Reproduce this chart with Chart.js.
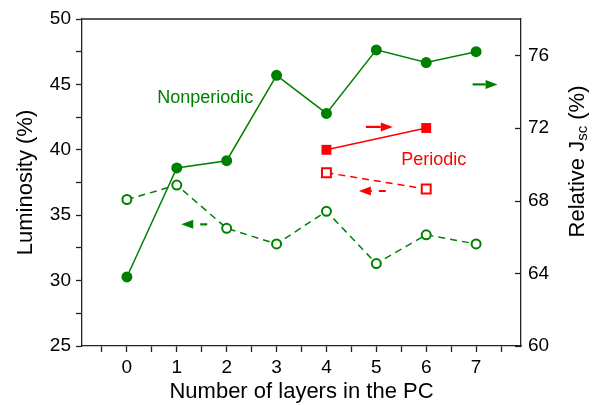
<!DOCTYPE html>
<html>
<head>
<meta charset="utf-8">
<script src="https://cdn.jsdelivr.net/npm/chart.js@4.4.1/dist/chart.umd.min.js"></script>
<style>
  html, body { margin:0; padding:0; background:#fff; }
</style>
</head>
<body>
<canvas id="c" width="595" height="405"></canvas>
<script>
// ── DATA ───────────────────────────────────────────────
const layers          = [0, 1, 2, 3, 4, 5, 6, 7];
const jscNonperiodic  = [63.8, 69.8, 70.2, 74.9, 72.8, 76.3, 75.6, 76.2];  // right axis
const lumNonperiodic  = [36.2, 37.3, 34.0, 32.8, 35.3, 31.3, 33.5, 32.8];  // left axis
const periodicLayers  = [4, 6];
const jscPeriodic     = [70.8, 72.0];    // right axis
const lumPeriodic     = [38.25, 37.0];   // left axis

const xTicksMajor = [0, 1, 2, 3, 4, 5, 6, 7];
const lumTicks    = [25, 30, 35, 40, 45, 50];
const jscTicks    = [60, 64, 68, 72, 76];

// arrows show which axis a curve belongs to (data coords)
const arrowFrom = [6.93, 4.79, 5.19, 1.61];
const arrowTo   = [7.43, 5.33, 4.65, 1.09];
const arrowY    = [74.4, 72.06, 36.85, 34.3];
const arrowAxis = ['yR', 'yR', 'yL', 'yL'];
const arrowDash = [false, false, true, true];

const noteText = ['Nonperiodic', 'Periodic'];
const noteX    = [1.57, 6.15];
const noteY    = [73.64, 70.23];

// ── STYLE ──────────────────────────────────────────────
const GREEN = '#008000';
const RED   = '#ff0000';
const AXIS  = '#222';
const FONT  = "'Liberation Sans', Arial, sans-serif";

const pts = (xs, ys) => xs.map((x, i) => ({ x, y: ys[i] }));

// ── OVERLAY: frame, inward right ticks, arrows, notes, right title ──
const overlay = {
  id: 'overlay',
  afterDatasetsDraw(chart) {
    const { ctx, scales } = chart;
    const xs = scales.x;
    ctx.save();

    // arrows
    arrowFrom.forEach((f, i) => {
      const ys = scales[arrowAxis[i]];
      const colr = arrowAxis[i] === 'yR' && i === 0 ? GREEN : (i === 3 ? GREEN : RED);
      const x0 = xs.getPixelForValue(f), x1 = xs.getPixelForValue(arrowTo[i]);
      const y = ys.getPixelForValue(arrowY[i]);
      const dir = Math.sign(x1 - x0), head = 12, hw = 4.5;
      ctx.strokeStyle = colr; ctx.fillStyle = colr; ctx.lineWidth = 2.2;
      ctx.setLineDash(arrowDash[i] ? [7, 7] : []);
      ctx.beginPath(); ctx.moveTo(x0, y); ctx.lineTo(x1 - dir * head, y); ctx.stroke();
      ctx.setLineDash([]);
      ctx.beginPath();
      ctx.moveTo(x1, y);
      ctx.lineTo(x1 - dir * head, y - hw);
      ctx.lineTo(x1 - dir * head, y + hw);
      ctx.closePath(); ctx.fill();
    });

    // notes
    ctx.font = `18px ${FONT}`;
    ctx.textAlign = 'center'; ctx.textBaseline = 'middle';
    noteText.forEach((t, i) => {
      ctx.fillStyle = i === 0 ? GREEN : RED;
      ctx.fillText(t, xs.getPixelForValue(noteX[i]), scales.yR.getPixelForValue(noteY[i]));
    });
    ctx.restore();
  },
  afterDraw(chart) {
    const { ctx, chartArea: a, scales } = chart;
    ctx.save();
    ctx.strokeStyle = AXIS; ctx.lineWidth = 1.3;
    // top frame line
    ctx.beginPath(); ctx.moveTo(a.left, a.top); ctx.lineTo(a.right, a.top); ctx.stroke();
    // right axis ticks point inward
    jscTicks.forEach(v => {
      const y = Math.round(scales.yR.getPixelForValue(v)) + 0.5;
      ctx.beginPath(); ctx.moveTo(a.right - 6, y); ctx.lineTo(a.right, y); ctx.stroke();
    });

    // right title: Relative J_sc (%)
    const parts = [['Relative J', 22, 0], ['sc', 15, 5], [' (%)', 22, 0]];
    let total = 0;
    parts.forEach(p => { ctx.font = `${p[1]}px ${FONT}`; total += ctx.measureText(p[0]).width; });
    ctx.translate(578, 161.5);
    ctx.rotate(-Math.PI / 2);
    ctx.fillStyle = '#000'; ctx.textBaseline = 'middle'; ctx.textAlign = 'left';
    let cx = -total / 2;
    parts.forEach(p => {
      ctx.font = `${p[1]}px ${FONT}`;
      ctx.fillText(p[0], cx, p[2]);
      cx += ctx.measureText(p[0]).width;
    });
    ctx.restore();
  }
};

// ── CHART ──────────────────────────────────────────────
new Chart(document.getElementById('c'), {
  type: 'line',
  data: {
    datasets: [
      { label: 'Jsc nonperiodic', data: pts(layers, jscNonperiodic), yAxisID: 'yR',
        borderColor: GREEN, backgroundColor: GREEN, borderWidth: 1.5,
        pointRadius: 5.5, pointBackgroundColor: GREEN, pointBorderWidth: 0 },
      { label: 'Luminosity nonperiodic', data: pts(layers, lumNonperiodic), yAxisID: 'yL',
        borderColor: GREEN, borderWidth: 1.5, borderDash: [7, 5],
        pointRadius: 4.5, pointBackgroundColor: '#fff', pointBorderColor: GREEN, pointBorderWidth: 2 },
      { label: 'Jsc periodic', data: pts(periodicLayers, jscPeriodic), yAxisID: 'yR',
        borderColor: RED, borderWidth: 1.5, pointStyle: 'rect',
        pointRadius: 7, pointBackgroundColor: RED, pointBorderWidth: 0 },
      { label: 'Luminosity periodic', data: pts(periodicLayers, lumPeriodic), yAxisID: 'yL',
        borderColor: RED, borderWidth: 1.5, borderDash: [7, 5], pointStyle: 'rect',
        pointRadius: 6.3, pointBackgroundColor: '#fff', pointBorderColor: RED, pointBorderWidth: 2 }
    ]
  },
  options: {
    responsive: false,
    devicePixelRatio: 1,
    animation: false,
    layout: { padding: { top: 19, left: 0, right: 0, bottom: 0 } },
    elements: { line: { tension: 0 } },
    plugins: { legend: { display: false }, tooltip: { enabled: false } },
    scales: {
      x: {
        type: 'linear', min: -0.9, max: 7.9,
        afterFit: s => { s.height = 59; },
        afterBuildTicks: s => { s.ticks = [-0.5, ...xTicksMajor.flatMap(v => [v, v + 0.5])].map(v => ({ value: v })); },
        ticks: { autoSkip: false, maxRotation: 0, padding: 4, color: '#000',
                 font: { family: FONT, size: 19 },
                 callback: v => xTicksMajor.includes(v) ? String(v) : '' },
        grid: { drawOnChartArea: false, tickLength: 6, tickColor: AXIS, tickWidth: 1.3 },
        border: { color: AXIS, width: 1.3 },
        title: { display: true, text: 'Number of layers in the PC', color: '#000',
                 font: { family: FONT, size: 22 }, padding: 0 }
      },
      yL: {
        position: 'left', min: 25, max: 50,
        afterFit: s => { s.width = 82; },
        afterBuildTicks: s => { s.ticks = lumTicks.flatMap(v => v < 50 ? [v, v + 2.5] : [v]).map(v => ({ value: v })); },
        ticks: { padding: 5, color: '#000', font: { family: FONT, size: 19 },
                 callback: v => lumTicks.includes(v) ? String(v) : '' },
        grid: { drawOnChartArea: false, tickLength: 6, tickColor: AXIS, tickWidth: 1.3 },
        border: { color: AXIS, width: 1.3 },
        title: { display: true, text: 'Luminosity (%)', color: '#000',
                 font: { family: FONT, size: 22 }, padding: { top: 13 } }
      },
      yR: {
        position: 'right', min: 60, max: 78,
        afterFit: s => { s.width = 74; },
        afterBuildTicks: s => { s.ticks = jscTicks.map(v => ({ value: v })); },
        ticks: { padding: 7, color: '#000', font: { family: FONT, size: 19 } },
        grid: { drawOnChartArea: false, drawTicks: false },
        border: { color: AXIS, width: 1.3 }
      }
    }
  },
  plugins: [overlay]
});
</script>
</body>
</html>
